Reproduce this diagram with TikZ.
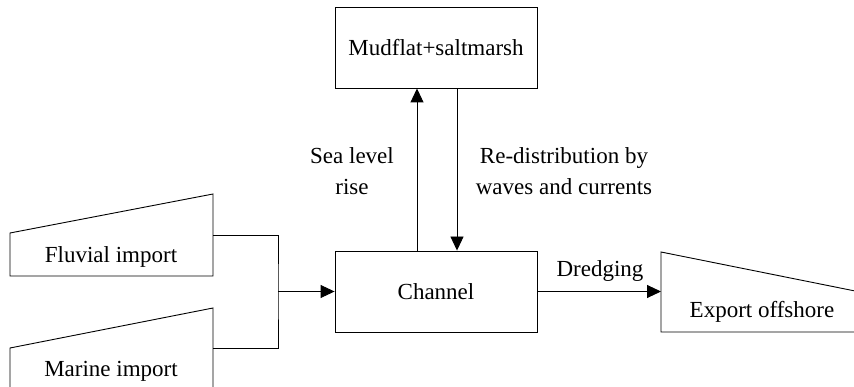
\documentclass[tikz,border=0pt]{standalone}
\usepackage{fontspec}
\setmainfont{Liberation Serif}
\usetikzlibrary{arrows.meta,positioning}

\begin{document}
\begin{tikzpicture}[x=1pt,y=-1pt,line width=0.9pt,
	font=\fontsize{23}{31}\selectfont,
	box/.style={draw, minimum width=202pt, minimum height=81pt, inner sep=0pt},
	flow/.style={-{Triangle[length=14pt,width=13pt]}}]
		
		\useasboundingbox (0,0) rectangle (854,387);
		\clip (0,0) rectangle (854,387);
		
		% central boxes
		\node[box] (marsh) at (436,47.5) {Mudflat+saltmarsh};
		\node[box] (channel) at (436,291.5) {Channel};
		
		% import blocks (slanted tops)
		\draw (10,233) -- (213,194) -- (213,276) -- (10,276) -- cycle;
		\node (fluvial) at (111,257) {Fluvial import};
		\draw (10,348) -- (213,308) -- (213,420) -- (10,420) -- cycle;
		\node (marine) at (111,371) {Marine import};
		
		% export block
		\draw (661,252) -- (880,296) -- (880,332) -- (661,332) -- cycle;
		\node (export) at (762,312) {Export offshore};
		
		% connector ends
		\coordinate (fluvialout) at (213,235);
		\coordinate (marineout) at (213,348);
		\coordinate (join) at (278,291.5);
		\coordinate (exportin) at (661,291.5);
		
		% imports into channel
		\draw (fluvialout) -| (join) |- (marineout);
		\draw[flow] (join) -- (channel.west);
		
		% exchange with mudflat
		\draw[flow] ([xshift=-19pt]channel.north) -- ([xshift=-19pt]marsh.south);
		\draw[flow] ([xshift=21pt]marsh.south) -- ([xshift=21pt]channel.north);
		\node[align=center] (slr) at (352,171) {Sea level\\rise};
		\node[align=center] (redist) at (564,171) {Re-distribution by\\waves and currents};
		
		% dredging
		\draw[flow] (channel.east) -- (exportin);
		\node (dredge) at (600,271) {Dredging};
		
	\end{tikzpicture}
\end{document}
